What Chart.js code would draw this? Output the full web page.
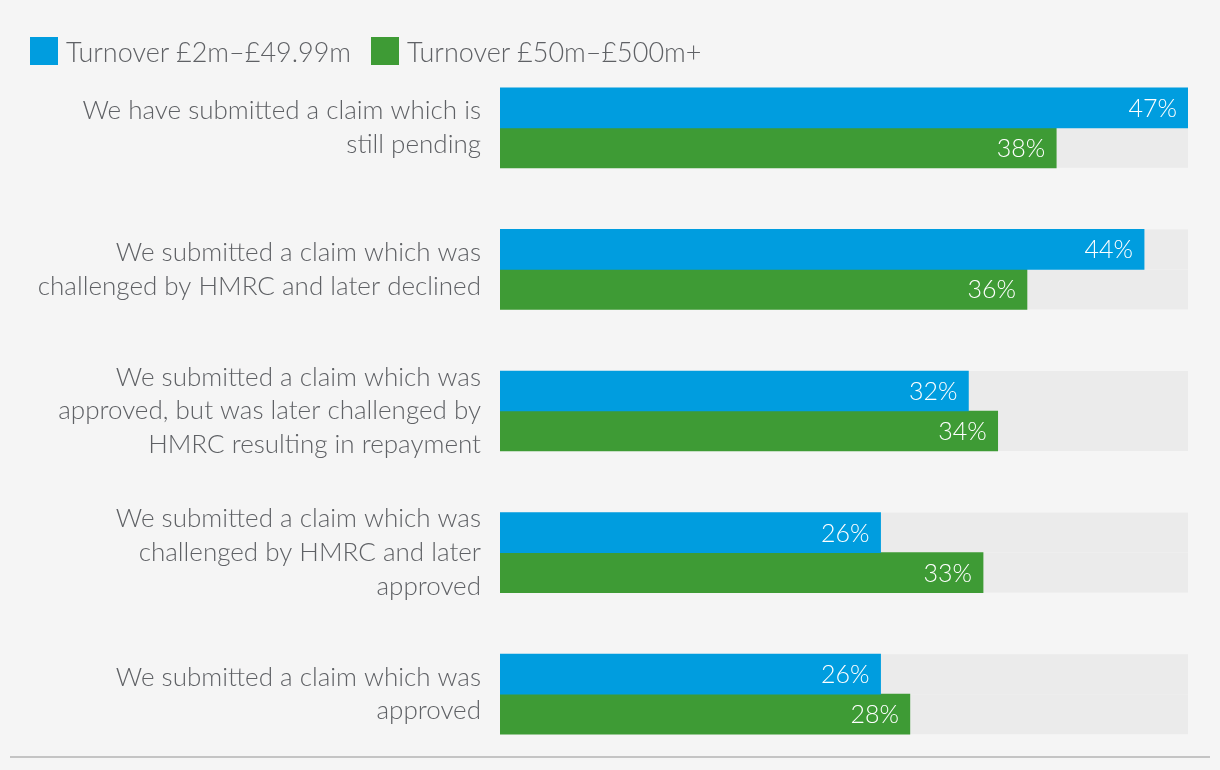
<!DOCTYPE html>
<html>
<head>
<meta charset="utf-8">
<script src="https://cdn.jsdelivr.net/npm/chart.js@4"></script>
<style>
  html, body { margin: 0; padding: 0; background: #f5f5f5; }
  #wrap { position: relative; width: 1220px; height: 770px; }
  #legend { position: absolute; left: 30px; top: 37px; display: flex; font: 300 27px Lato, "Open Sans", sans-serif; color: #5f6165; }
  .item { display: flex; align-items: center; margin-right: 20px; height: 28px; }
  .box { width: 28px; height: 28px; margin-right: 8px; }
  #rule { position: absolute; left: 10px; top: 756px; width: 1200px; height: 2px; background: #c4c4c4; }
</style>
</head>
<body>
<div id="wrap">
  <canvas id="chart" width="1220" height="770"></canvas>
  <div id="legend"></div>
  <div id="rule"></div>
</div>
<script>
// categories (one array of lines per label)
const categories = [
    ['We have submitted a claim which is', 'still pending'],
    ['We submitted a claim which was', 'challenged by HMRC and later declined'],
    ['We submitted a claim which was', 'approved, but was later challenged by', 'HMRC resulting in repayment'],
    ['We submitted a claim which was', 'challenged by HMRC and later', 'approved'],
    ['We submitted a claim which was', 'approved']
];
const seriesNames = ['Turnover £2m–£49.99m', 'Turnover £50m–£500m+'];
const smallTurnover = [47, 44, 32, 26, 26];
const largeTurnover = [38, 36, 34, 33, 28];
const seriesColors = ['#009ddf', '#3e9b35'];

const textColor = '#5f6165';
const fontFamily = 'Lato, "Open Sans", sans-serif';
const maxValue = Math.max(...smallTurnover, ...largeTurnover);

// html legend
const legend = document.getElementById('legend');
seriesNames.forEach((name, i) => {
    const item = document.createElement('div');
    item.className = 'item';
    item.innerHTML = '<div class="box" style="background:' + seriesColors[i] + '"></div><span>' + name + '</span>';
    legend.appendChild(item);
});

// grey track behind each bar, running to the end of the scale
const trackPlugin = {
    id: 'tracks',
    beforeDatasetsDraw(chart) {
        const ctx = chart.ctx;
        const x = chart.scales.x;
        const left = x.getPixelForValue(0);
        const right = x.getPixelForValue(maxValue);
        ctx.save();
        ctx.fillStyle = '#ebebeb';
        chart.data.datasets.forEach((ds, i) => {
            chart.getDatasetMeta(i).data.forEach(bar => {
                ctx.fillRect(left, bar.y - bar.height / 2, right - left, bar.height);
            });
        });
        ctx.restore();
    }
};

// percentage labels inside the bar ends
const valuePlugin = {
    id: 'values',
    afterDatasetsDraw(chart) {
        const ctx = chart.ctx;
        ctx.save();
        ctx.fillStyle = '#ffffff';
        ctx.font = '300 25px ' + fontFamily;
        ctx.textAlign = 'right';
        ctx.textBaseline = 'middle';
        chart.data.datasets.forEach((ds, i) => {
            chart.getDatasetMeta(i).data.forEach((bar, j) => {
                ctx.fillText(ds.data[j] + '%', bar.x - 11, bar.y + 1);
            });
        });
        ctx.restore();
    }
};

new Chart(document.getElementById('chart'), {
    type: 'bar',
    data: {
        labels: categories,
        datasets: [
            { label: seriesNames[0], data: smallTurnover, backgroundColor: seriesColors[0], barThickness: 40 },
            { label: seriesNames[1], data: largeTurnover, backgroundColor: seriesColors[1], barThickness: 40 }
        ]
    },
    options: {
        indexAxis: 'y',
        responsive: false,
        animation: false,
        layout: { padding: { left: 0, right: 32, top: 57, bottom: 5 } },
        plugins: { legend: { display: false }, tooltip: { enabled: false } },
        scales: {
            x: { display: false, min: 0, max: maxValue },
            y: {
                grid: { display: false },
                border: { display: false },
                afterFit: scale => {
                    scale.width = 500;
                    scale.paddingTop = 0;
                    scale.paddingBottom = 0;
                },
                ticks: {
                    color: textColor,
                    padding: 11,
                    font: { family: fontFamily, size: 26, weight: 300, lineHeight: 1.3 }
                }
            }
        }
    },
    plugins: [trackPlugin, valuePlugin]
});
</script>
</body>
</html>
